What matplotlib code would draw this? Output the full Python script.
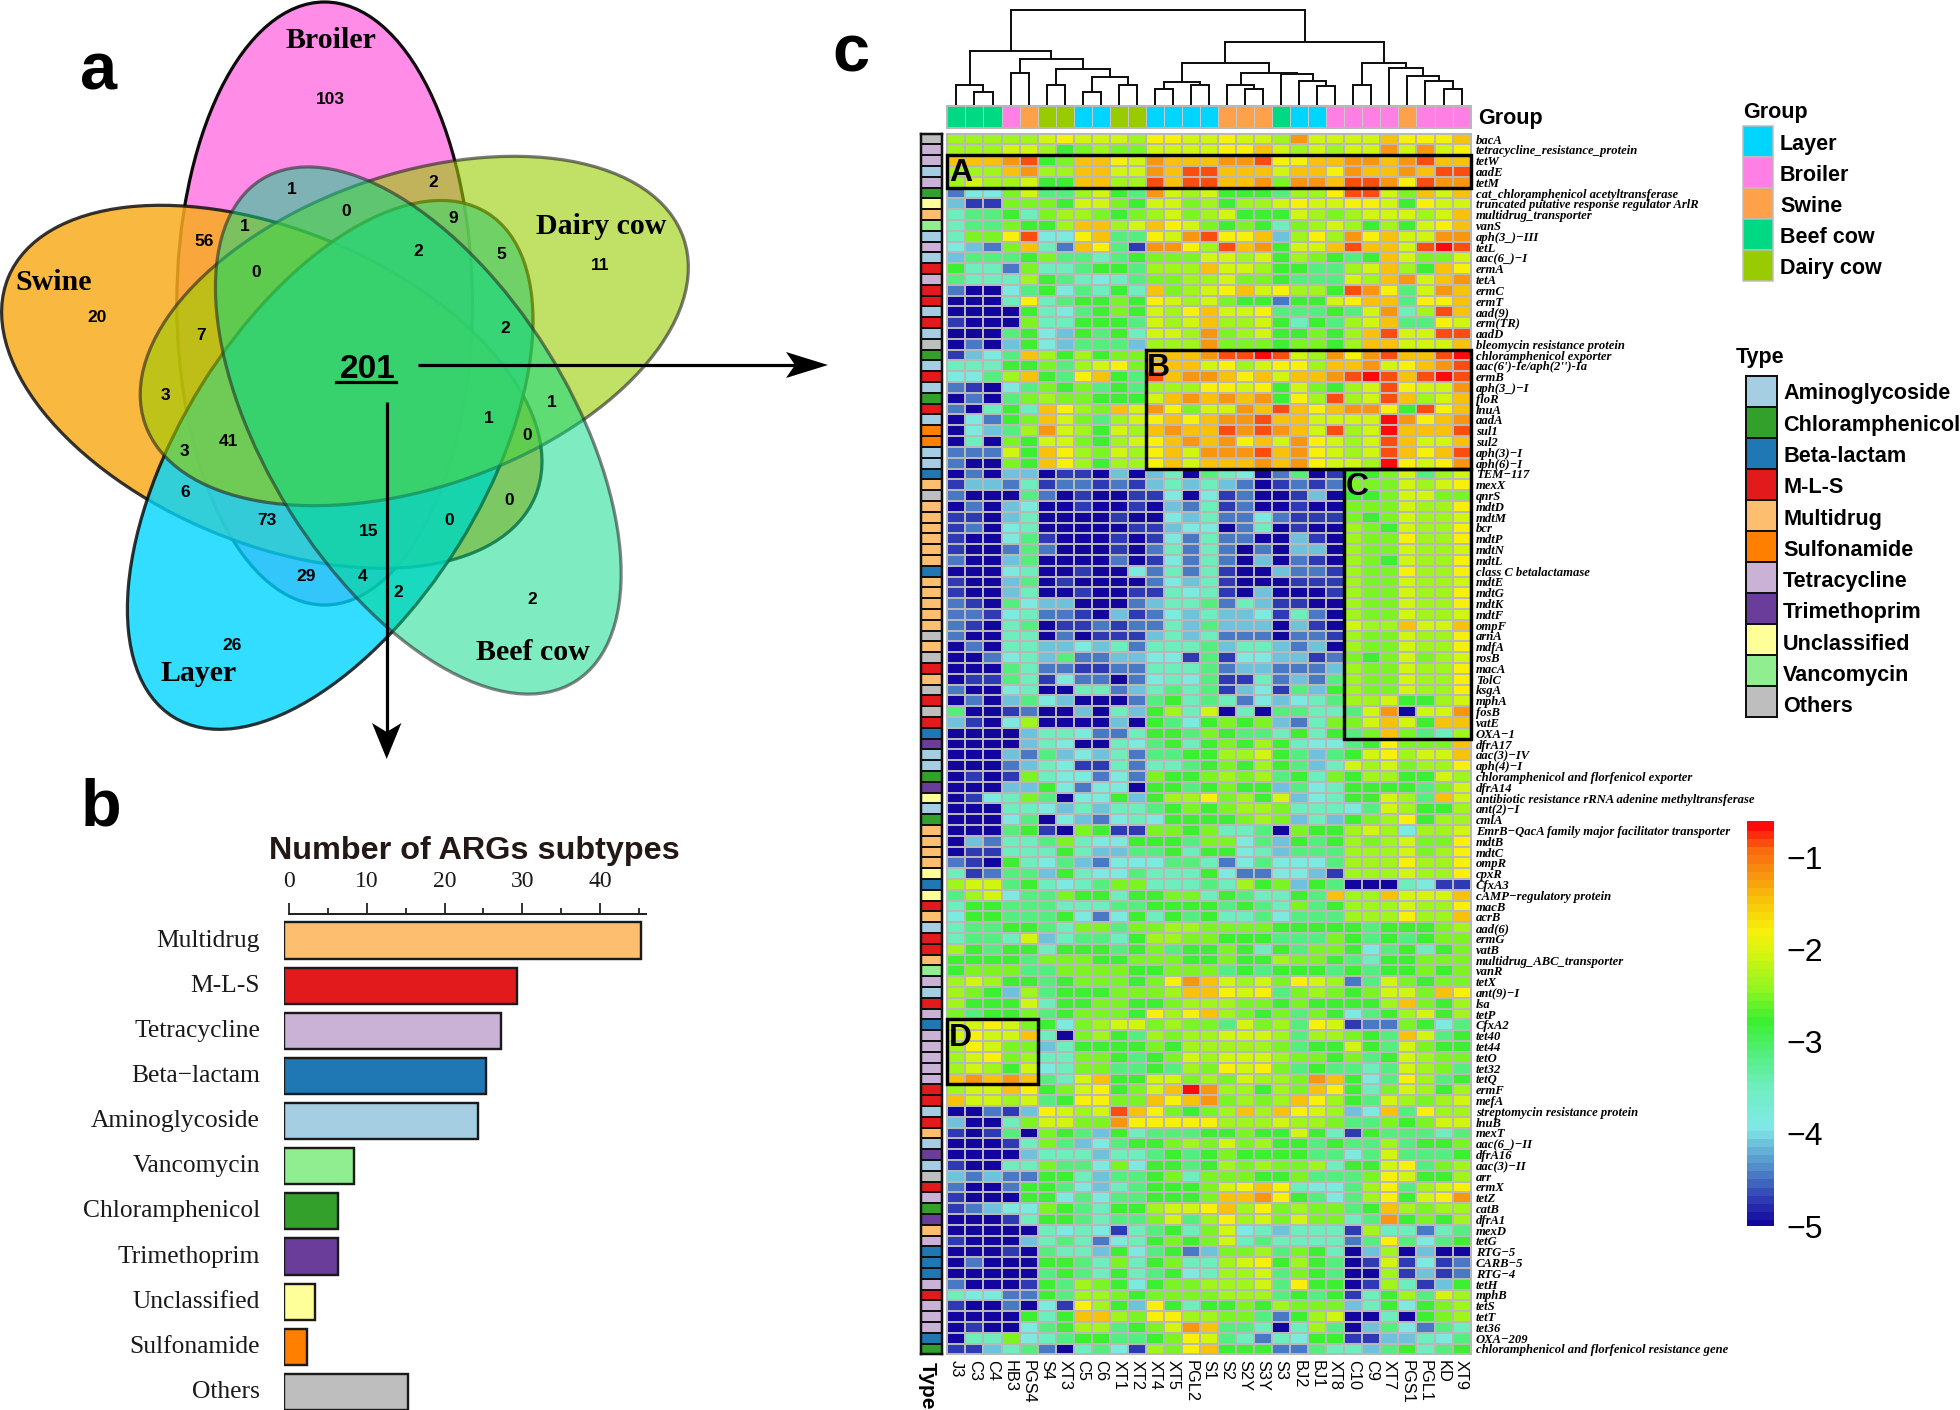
import numpy as np
import matplotlib
matplotlib.use('Agg')
import matplotlib.pyplot as plt
from matplotlib.patches import Ellipse, Polygon, Rectangle
from matplotlib.colors import LinearSegmentedColormap, ListedColormap, Normalize

# ---------- data ----------
BAR_CATS = ['Multidrug','M-L-S','Tetracycline','Beta−lactam','Aminoglycoside','Vancomycin',
            'Chloramphenicol','Trimethoprim','Unclassified','Sulfonamide','Others']
BAR_VALS = [46,30,28,26,25,9,7,7,4,3,16]

TYPE_COL = {'Aminoglycoside':'#A6CEE3','Chloramphenicol':'#33A02C','Beta-lactam':'#1F78B4','M-L-S':'#E31A1C',
            'Multidrug':'#FDBF6F','Sulfonamide':'#FF7F00','Tetracycline':'#CAB2D6','Trimethoprim':'#6A3D9A',
            'Unclassified':'#FFFF99','Vancomycin':'#90EE90','Others':'#BEBEBE'}
GROUP_COL = {'Layer':'#00D5FF','Broiler':'#FF7FE5','Swine':'#FFA04A','Beef cow':'#00D984','Dairy cow':'#99CC00'}

SAMPLES = ['J3','C3','C4','HB3','PGS4','S4','XT3','C5','C6','XT1','XT2','XT4','XT5','PGL2','S1','S2','S2Y','S3Y',
           'S3','BJ2','BJ1','XT8','C10','C9','XT7','PGS1','PGL1','KD','XT9']
SAMPLE_GROUP = 'BBB' 'RS' 'DD' 'LL' 'DD' 'LLLL' 'SSS' 'B' 'LL' 'RRRR' 'S' 'RRR'
GROUP_CODE = {'L':'Layer','R':'Broiler','S':'Swine','B':'Beef cow','D':'Dairy cow'}

GENES = ['bacA','tetracycline_resistance_protein','tetW','aadE','tetM','cat_chloramphenicol acetyltransferase',
 'truncated putative response regulator ArlR','multidrug_transporter','vanS','aph(3_)−III','tetL','aac(6_)−I','ermA',
 'tetA','ermC','ermT','aad(9)','erm(TR)','aadD','bleomycin resistance protein','chloramphenicol exporter',
 "aac(6')-Ie/aph(2'')-Ia",'ermB','aph(3_)−I','floR','lnuA','aadA','sul1','sul2','aph(3)−I','aph(6)−I','TEM−117','mexX',
 'qnrS','mdtD','mdtM','bcr','mdtP','mdtN','mdtL','class C betalactamase','mdtE','mdtG','mdtK','mdtF','ompF','arnA','mdfA',
 'rosB','macA','TolC','ksgA','mphA','fosB','vatE','OXA−1','dfrA17','aac(3)−IV','aph(4)−I',
 'chloramphenicol and florfenicol exporter','dfrA14','antibiotic resistance rRNA adenine methyltransferase','ant(2)−I',
 'cmlA','EmrB−QacA family major facilitator transporter','mdtB','mdtC','ompR','cpxR','CfxA3','cAMP−regulatory protein',
 'macB','acrB','aad(6)','ermG','vatB','multidrug_ABC_transporter','vanR','tetX','ant(9)−I','lsa','tetP','CfxA2','tet40',
 'tet44','tetO','tet32','tetQ','ermF','mefA','streptomycin resistance protein','lnuB','mexT','aac(6_)−II','dfrA16',
 'aac(3)−II','arr','ermX','tetZ','catB','dfrA1','mexD','tetG','RTG−5','CARB−5','RTG−4','tetH','mphB','tetS','tetT','tet36',
 'OXA−209','chloramphenicol and florfenicol resistance gene']

TYPE_CODE = {'Am':'Aminoglycoside','Ch':'Chloramphenicol','Be':'Beta-lactam','ML':'M-L-S','Mu':'Multidrug',
             'Su':'Sulfonamide','Te':'Tetracycline','Tr':'Trimethoprim','Un':'Unclassified','Va':'Vancomycin','Ot':'Others'}
GENE_TYPES = ('Ot Te Te Am Te Ch Un Mu Va Am Te Am ML Te ML ML Am ML Am Ot Ch Am ML Am Ch ML Am Su Su Am Am Be Mu Ot '
 'Mu Mu Mu Mu Mu Mu Be Mu Mu Mu Mu Mu Ot Mu Ot ML Mu Ot ML Ot ML Be Tr Am Am Ch Tr Un Am Ch Mu Mu Mu Mu Un Be Un ML Mu '
 'Am ML ML Mu Va Te Am ML Te Be Te Te Te Te Te ML ML Am ML Mu Am Tr Am Ot ML Te Ch Tr Mu Te Be Be Be Te ML Te Te Te Be Ch').split()

# each character is one cell, a level looked up in LEVEL_VALUES
LEVEL_VALUES = dict(zip('0123456789abcdef',
    [-5,-4.7,-4.4,-4.1,-3.85,-3.5,-3.15,-2.75,-2.5,-2.3,-2.05,-1.75,-1.45,-1.15,-.85,-.6]))
HEAT_A = """
99999 abaaa 9bbaa baa9d aaaac bbbc
999aa 97898 8aaaa bbca9 a9aad adab
cccde 78ccb adccc ddebb ccddc decc
999cd 99cca adcee cccac cbdcc dcee
9a99a 77cc9 9ecee ccd8d dceed bedd
2448a 669a7 6da9a 77769 9beea 8cac
31188 87aa8 7aa89 799ab aabba 7baa
56675 89987 89a89 a777a 989aa a9ac
56687 79cc9 acba8 78758 9a979 7abc
588be 44bc6 6bade bbc39 b9dbc aadd
4328c 52cb6 1dd b9ecd7a acecc aefe
36667 86656 788 8aa9a 7987 6 7ca88a
75528 55677 6999c aa977 669ac 97cb
65559 76545 68899 a8876 66a9c dacd
20046 74657 5c89a bcab9 97edb 6adc
0005b 56778 7ba9a 87727 7abcc 6bbc
00007 54678 7a9bc aab66 676ad 59ec
10008 55777 6a9ac 99a75 769ac 66ba
00067 43767 5aa9d 89a77 879ce aaee
02037 43666 3999d 88878 879cc aaac
1346c 97978 8cccd eefea 9dbde ccef
55577 869ab 8ccca b9abb 9ccda bcde
4469c 76bc7 6ecdd cbcac cdefe cefe
21046 87867 6999b bab7a 879ae baad
02068 98877 7acdc dcd7b 9e9ae c9ac
20575 cb98c adb8a adcec bcddb 7ebc
04278 ca869 abcbc ddecc aaaaf dbcd
04369 da97a 9cdcc ededc ae9af ccce
05087 aa879 abcdc dbcad ba9ae caac
222a7 cb98a 9bcad ddecd ba9ae cbce
20087 cb979 9bcac ccdcd baa9f babd
02033 01103 0350 6 54026 01778 a69a
"""
HEAT_B = """
13325 12212 13535 32012 12888 a9ab
20006 20100 11404 12001 30778 aa88
02034 00100 10325 12001 00888 a99b
11035 00001 00435 22421 11878 a99a
12045 00000 11344 02501 00987 a99b
10046 10001 01425 22003 10988 b99b
10026 20001 02525 20203 30988 a99a
20036 00002 01425 20302 10987 a99b
00045 00100 42525 10032 21988 b99b
10036 01000 02435 10001 11988 a99a
10035 00100 11545 10300 01988 a99b
21064 33000 23556 25311 00988 a99b
22145 22103 12435 33415 20988 a99a
21056 01121 22536 33303 10a99 caac
20055 02011 13535 22202 21988 a99b
02055 33435 25556 35532 30988 a99b
00245 36223 34416 14433 12878 a89a
00065 22112 25556 23322 23988 a99b
01165 14220 24546 11523 26988 a99b
20045 00552 35656 13416 37988 a99b
02036 43000 26756 52434 5699a 779a
60012 00305 379 5a 05066 556ad 0aad
31049 00003 07647 87832 588ac a7cc
00003 55422 57768 76657 5768c 8659
00003 54005 46757 87975 4467b 888c
00032 63435 26677 99a76 367ab 9aac
00023 54115 25567 87976 35a9a 899b
01018 54424 28778 98967 58799 77a9
00033 74244 07767 87736 45777 768a
01458 60447 3799b 89 7a3 4577a 96ca
00055 43535 56787 89985 5546a 9779
00046 04324 54777 78983 53789 b799
00067 10871 18878 55608 779a9 499a
03255 68544 77768 84637 67989 a88b
01155 57533 66757 74536 66999 a89b
21075 46324 44665 24644 46999 b99b
51266 37544 65557 42244 31999 a99b
9aa67 54568 85556 59783 76000 5411
69a46 68775 77885 76557 6c99c aaac
57766 65556 67777 67658 67999 a99b
47766 67424 75767 55646 66999 b99c
56677 65886 88998 88877 77767 7789
5665a 35665 79988 77766 68767 6788
"""
HEAT_C = """
97677 57776 78677 87576 88746 7578
77776 88877 88877 87798 87657 7888
78886 68888 77888 67677 76767 7878
9a977 67888 78bdc a9a8b a926a 8788
98739 67778 889cc bab68 9878a a8cb
9777a 57788 77899 98878 77779 c879
86778 67888 7b9bc 98786 87467 9a79
aaba8 748 9a a8988 6a896 ba122 8746
abaac 50897 69899 aaa96 99876 ca67
9ba88 35777 78799 99986 77a76 a877
9ab89 55887 678a9 aaa98 87867 a988
9a97a 45886 67698 bab86 76656 a986
cdcdc 65ac7 7aa89 8a998 dc746 b967
9aacb 78ab7 8acfd 99798 cb758 a979
caa9a 67bb8 8cbcd 8989c b976a 989a
00213 ba9ae cb878 9c9cb a934c 6b99
30058 aa88d bbbbb 999a9 98668 78aa
10160 87637 56667 787 7a 7517 6 6656
00015 86346 77898 a8977 67669 6778
00003 55535 56767 87777 664 6a 6667
10055 86648 47767 98988 9577a b689
32322 77536 67858 88778 6668b a779
20027 76435 67778 abcb5 4469b 69ab
10007 74646 67778 ccdb7 6469b 7abd
12344 87657 79aab c9b89 8867c 9899
00015 77656 68a69 b9a8a 8856d 7879
00000 54541 56758 a4535 5519 5 5256
10003 56524 57878 a5655 5526b 6467
00010 65537 46723 88968 7503 9 0300
02000 77658 5785 5 9ab79 7601a 1412
00000 67657 56745 99a68 76009 1312
20001 76987 47889 99a6b 77019 5137
54422 76998 78888 999 67 67157 96a9
10020 41b97 3b757 78798 88357 4789
00007 57cc9 8bb99 88627 9a005 0789
01004 67996 78adc 66505 96036 4265
05584 56776 678ba 65254 77113 3546
11356 20564 198bc 77722 65536 7567
"""
HEAT_ROWS = [r.replace(' ', '') for r in (HEAT_A + HEAT_B + HEAT_C).split('\n') if r.strip()]

# dendrogram merges: two children (leaf number or earlier merge name) and height
MERGES = [('A',2,3,36),('B',1,'A',58),('C',4,5,95),('D',6,7,58),('E',8,9,38),('F',10,11,59),('G','E','F',81),
 ('H','D','G',105),('I','C','H',135),('J','B','I',160),('K',12,13,45),('L',14,15,58),('M','K','L',68),('N',17,18,45),
 ('O',16,'N',57),('P',21,22,54),('Q',20,'P',70),('R',19,'Q',91),('S','O','R',95),('T','M','S',125),('U',23,24,58),
 ('V',28,29,46),('W',27,'V',71),('X',26,'W',86),('Y',25,'X',108),('Z','U','Y',125),('AA','T','Z',188),('root','J','AA',283)]

VENN_SETS = [('Broiler',1.0),('Swine',1.0),('Layer',1.0),('Dairy cow',1.0),('Beef cow',1.0)]
VENN_NUMBERS = [('103',330.5,98.7),('20',97.5,316.8),('11',600.4,264.7),('2',532,598.7),('26',232.5,644.9),
 ('1',291.4,189),('0',346,211.2),('2',433.3,182.2),('9',453,218),('56',204.6,241),('1',244.8,226.4),('2',418.3,250.5),
 ('5',501.3,253.9),('0',256.6,272),('7',201.4,334.5),('2',505,328),('3',165,395.4),('1',552.2,401.8),('1',488.5,418),
 ('0',527.6,434.7),('3',184.8,450.9),('41',228.2,441),('6',184.8,491.7),('0',508.8,500),('73',266.7,519.6),
 ('0',448.9,519.6),('15',369,531),('29',306.4,575.6),('4',363,575.6),('2',398,592.3)]

# ---------- set-up ----------
W, H = 1960, 1410
SANS, SERIF = 'Liberation Sans', 'Liberation Serif'
plt.rcParams['font.family'] = SANS
fig = plt.figure(figsize=(W/100, H/100), dpi=100, facecolor='white')
def axpx(x0, y0, x1, y1, **kw):
    return fig.add_axes([x0/W, 1-y1/H, (x1-x0)/W, (y1-y0)/H], **kw)
def px(v):           # pixels to points
    return v*0.72

bg = axpx(0, 0, W, H)
bg.set_xlim(0, W); bg.set_ylim(H, 0); bg.axis('off')

# ---------- panel a ----------
ELL = {'Broiler':(324.6,303.5,301.5,147.8,90,'#FF86E6',0.95,'#000000'),
       'Swine':(271.8,386.8,285.3,156.7,22.6,'#F9AC1E',0.85,'#111111'),
       'Layer':(330.2,464.9,296.9,151.4,-58.1,'#00D5FF',0.8,'#000000'),
       'Dairy cow':(414.3,331,284.8,156.6,-19,'#99CC00',0.6,'#222222'),
       'Beef cow':(418.3,430.5,296,151.7,58,'#00D984',0.5,'#222222')}
for name, _ in VENN_SETS:
    cx, cy, a, b, ang, col, al, ec = ELL[name]
    bg.add_patch(Ellipse((cx,cy), 2*a, 2*b, angle=ang, facecolor=col, alpha=al, edgecolor='none'))
    bg.add_patch(Ellipse((cx,cy), 2*a, 2*b, angle=ang, facecolor='none', edgecolor=ec, alpha=max(al,0.55), lw=px(3.2)))
for t, x, y in [('Broiler',330.5,41),('Swine',54,282),('Dairy cow',601,226),('Beef cow',533,652.5),('Layer',198.7,673.5)]:
    bg.text(x, y, t, family=SERIF, weight='bold', fontsize=21.5, ha='center', va='center')
for t, x, y in VENN_NUMBERS:
    bg.text(x, y+0.5, t, weight='bold', fontsize=12.5, ha='center', va='center')
bg.text(368, 369, '201', weight='bold', fontsize=24, ha='center', va='center')
bg.plot([336,396], [382,382], color='k', lw=px(3.2))
bg.plot([418,795], [365,365], color='k', lw=px(3.2), solid_capstyle='butt')
bg.add_patch(Polygon([(828,365),(786,352),(795,365),(786,378)], fc='k', ec='none'))
bg.plot([386.7,386.7], [402,732], color='k', lw=px(3.2), solid_capstyle='butt')
bg.add_patch(Polygon([(386.7,759),(372,723),(386.7,732),(401.4,723)], fc='k', ec='none'))
for t, x, y in [('a',99,89.5),('b',101,826),('c',851,72)]:
    bg.text(x, y, t, weight='bold', fontsize=48, ha='center', va='baseline')

# ---------- panel b ----------
scale = 7.775
y0b, sp = 940.5, 45.15
axb = axpx(283.7, y0b-sp/2, 283.7+400, y0b+10.5*sp)
axb.set_xlim(0, 400/scale); axb.set_ylim(10.5, -0.5); axb.axis('off'); axb.patch.set_alpha(0)
ypos = np.arange(len(BAR_CATS))
axb.barh(ypos, BAR_VALS, height=0.8, color=[TYPE_COL[c.replace('−','-')] for c in BAR_CATS],
         edgecolor='#1a1a1a', linewidth=px(2.4))
for y, c in zip(ypos, BAR_CATS):
    bg.text(260, y0b+y*sp, c, family=SERIF, fontsize=18.4, ha='right', va='center', color='#1a1a1a')
bg.text(474, 851, 'Number of ARGs subtypes', weight='bold', fontsize=23.3, ha='center', va='center', color='#231815')
axs = axpx(289, 898, 645.7, 913.5)
axs.set_xlim(0, (645.7-289)/scale); axs.set_ylim(0, 1); axs.patch.set_alpha(0)
for s in ['top','left','right']:
    axs.spines[s].set_visible(False)
axs.spines['bottom'].set_linewidth(px(2)); axs.spines['bottom'].set_color('#222222')
axs.set_yticks([])
axs.set_xticks([0,10,20,30,40]); axs.set_xticks([5,15,25,35,45], minor=True)
axs.tick_params(axis='x', which='major', direction='in', length=px(11), width=px(1.8), color='#222222',
                bottom=True, top=False, labelbottom=False, labeltop=True, pad=px(6), labelsize=17)
axs.tick_params(axis='x', which='minor', direction='in', length=px(6), width=px(1.8), color='#222222', top=False)
for lab in axs.get_xticklabels():
    lab.set_family(SERIF); lab.set_color('#1a1a1a')
axs.get_xticklabels()[0].set_x(-0.7)

# ---------- panel c ----------
HX0, HX1, HY0, HY1 = 947.4, 1470.6, 133.6, 1354.4
anchors = [(-5,'#12069E'),(-4.7,'#3040B5'),(-4.4,'#4F88C8'),(-4.1,'#6EC2DC'),(-3.95,'#80E8E8'),(-3.5,'#70EEC0'),
           (-3.15,'#55EE85'),(-2.75,'#3CF030'),(-2.4,'#90F520'),(-2.0,'#D5F510'),(-1.75,'#F8F00A'),(-1.4,'#F8C00A'),
           (-1.1,'#F89010'),(-0.85,'#FA6810'),(-0.6,'#FF0A0A')]
VMIN, VMAX = -5, -0.6
cmap = LinearSegmentedColormap.from_list('heat', [((v-VMIN)/(VMAX-VMIN), c) for v, c in anchors], N=50)
norm = Normalize(VMIN, VMAX)
heat = np.array([[LEVEL_VALUES[ch] for ch in r] for r in HEAT_ROWS])
nr, nc = heat.shape
axh = axpx(HX0, HY0, HX1, HY1)
mesh = axh.pcolormesh(np.arange(nc+1), np.arange(nr+1), heat, cmap=cmap, norm=norm, edgecolors='#B8B8B8', linewidth=px(1.5))
axh.set_xlim(0, nc); axh.set_ylim(nr, 0)
axh.set_xticks(np.arange(nc)+.5); axh.set_xticklabels(SAMPLES, rotation=-90, fontsize=11.8, ha='center', va='top')
axh.tick_params(axis='x', length=0, pad=px(6))
axh.yaxis.tick_right()
axh.set_yticks(np.arange(nr)+.5)
axh.set_yticklabels(GENES, family=SERIF, weight='bold', style='italic', fontsize=9.05, va='center_baseline')
axh.tick_params(axis='y', length=0, pad=px(5))
for s in axh.spines.values():
    s.set_color('#B8B8B8'); s.set_linewidth(px(2))

# highlighted blocks: (row from, row to, col from, col to) on the cells
BLOCKS = [('A',3,5,1,29),('B',21,31,12,29),('C',32,56,23,29),('D',83,88,1,5)]
for name, r0, r1, c0, c1 in BLOCKS:
    axh.add_patch(Rectangle((c0-1, r0-1), c1-c0+1, r1-r0+1, fill=False, ec='k', lw=px(3.4), clip_on=False, zorder=5))
    axh.text(c0-1+0.08, r0-1+0.3, name, weight='bold', fontsize=23, ha='left', va='top', zorder=6, color='k')

# type strip
types = [TYPE_CODE[t] for t in GENE_TYPES]
tnames = list(TYPE_COL)
axt = axpx(920.5, HY0, 942, HY1)
axt.pcolormesh(np.array([[tnames.index(t)] for t in types]), cmap=ListedColormap([TYPE_COL[t] for t in tnames]),
               vmin=-.5, vmax=len(tnames)-.5, edgecolors='#111111', linewidth=px(2))
axt.set_ylim(nr, 0); axt.set_xticks([]); axt.set_yticks([])
for s in axt.spines.values():
    s.set_linewidth(px(2.5)); s.set_color('#111111')
bg.text(927.5, 1362, 'Type', weight='bold', fontsize=15, rotation=-90, ha='center', va='top')

# group strip
axg = axpx(HX0, 106, HX1, 127.5)
gn = list(GROUP_COL)
axg.pcolormesh(np.array([[gn.index(GROUP_CODE[g]) for g in SAMPLE_GROUP]]),
               cmap=ListedColormap([GROUP_COL[g] for g in gn]), vmin=-.5, vmax=4.5, edgecolors='#C8C8C8', linewidth=px(1))
axg.set_xticks([]); axg.set_yticks([])
for s in axg.spines.values():
    s.set_color('#B8B8B8'); s.set_linewidth(px(2))
bg.text(1478, 118.5, 'Group', weight='bold', fontsize=15.5, ha='left', va='center')

# dendrogram
axd = axpx(HX0, 10, HX1, 104.3)
axd.set_xlim(0, nc); axd.set_ylim(0, 283); axd.axis('off')
nodes = {}
def pos(k):
    return (k-.5, 0) if isinstance(k, int) else nodes[k]
for name, a, b, h in MERGES:
    (xa, ya), (xb, yb) = pos(a), pos(b)
    axd.plot([xa, xa, xb, xb], [ya, h, h, yb], color='#111111', lw=px(2), clip_on=False, solid_joinstyle='miter')
    nodes[name] = ((xa+xb)/2, h)

# group legend
bg.text(1743, 112.8, 'Group', weight='bold', fontsize=15.5, ha='left', va='center')
for i, g in enumerate(GROUP_COL):
    y = 126.3 + i*31
    bg.add_patch(Rectangle((1743, y), 30, 31, fc=GROUP_COL[g], ec='#BDBDBD', lw=px(1.5)))
    bg.text(1780, y+18, g, weight='bold', fontsize=15.5, ha='left', va='center')
# type legend
bg.text(1736, 357, 'Type', weight='bold', fontsize=15.5, ha='left', va='center')
for i, t in enumerate(TYPE_COL):
    y = 376 + i*31
    bg.add_patch(Rectangle((1746, y), 31, 31, fc=TYPE_COL[t], ec='#111111', lw=px(2)))
    bg.text(1783, y+18+i*0.25, t, weight='bold', fontsize=15.6, ha='left', va='center')

# colour bar
cax = axpx(1747.3, 821, 1774.3, 1226)
cb = fig.colorbar(mesh, cax=cax)
cb.outline.set_visible(False)
cb.set_ticks([-1,-2,-3,-4,-5])
cb.ax.tick_params(length=0, pad=px(12), labelsize=23)
cb.solids.set_edgecolor('face')

fig.savefig('out.png', dpi=100, facecolor='white')
